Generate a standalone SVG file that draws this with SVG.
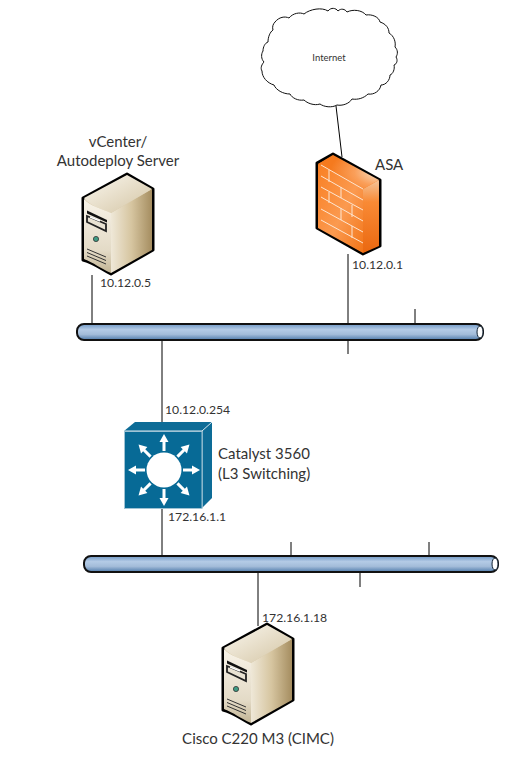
<svg xmlns="http://www.w3.org/2000/svg" width="531" height="767" viewBox="0 0 531 767">
<style>
text{font-family:"Lato","Open Sans",sans-serif;fill:#333}
.big{font-size:15px}
.sm{font-size:12.200px}
.wire{stroke:#000;stroke-width:1;fill:none}
.out{stroke:#000;stroke-width:3;stroke-linejoin:round}
.thin{stroke:#111;stroke-width:1;fill:none}
</style>
<defs>
<linearGradient id="bar" x1="0" y1="0" x2="0" y2="1">
<stop offset="0" stop-color="#6f97c4"/><stop offset=".35" stop-color="#b4cbe6"/><stop offset=".65" stop-color="#a3bcd9"/><stop offset="1" stop-color="#4f7bab"/>
</linearGradient>
<linearGradient id="srvSide" x1="0" y1="0" x2="1" y2="0">
<stop offset="0" stop-color="#efe8d8"/><stop offset=".5" stop-color="#d6c5a0"/><stop offset="1" stop-color="#a58d60"/>
</linearGradient>
<linearGradient id="srvTop" x1="0" y1="0" x2="1" y2="1">
<stop offset="0" stop-color="#fbf8f0"/><stop offset="1" stop-color="#d3c4a3"/>
</linearGradient>
<linearGradient id="srvFront" x1="0" y1="0" x2="0" y2="1">
<stop offset="0" stop-color="#f8f3e8"/><stop offset=".7" stop-color="#e3dac6"/><stop offset="1" stop-color="#c2b494"/>
</linearGradient>
<linearGradient id="fwFront" x1="0" y1="0" x2="1" y2="1">
<stop offset="0" stop-color="#f97f22"/><stop offset=".55" stop-color="#fb9a50"/><stop offset="1" stop-color="#f27518"/>
</linearGradient>
<radialGradient id="fwGlow" cx="1" cy="0.5" r="0.8">
<stop offset="0" stop-color="#f8e2c8"/><stop offset=".5" stop-color="#fa9f5a"/><stop offset="1" stop-color="#f57a1e"/>
</radialGradient>
<linearGradient id="fwSide" x1="0" y1="0" x2="0" y2="1">
<stop offset="0" stop-color="#f4c49a"/><stop offset=".3" stop-color="#f98a35"/><stop offset="1" stop-color="#ea6810"/>
</linearGradient>
<g id="server">
<path d="M83 198 L127 174 L153 189 L153 250 L111 274 C100 268 94 263 83 260Z" fill="#d8c9a8" class="out"/>
<path d="M111 213 L152 189 L152 250 L111 273Z" fill="url(#srvSide)"/>
<path d="M84 198 L127 175 L152 189 L111 213 C100 208 90 206 84 198Z" fill="url(#srvTop)"/>
<path d="M84 199 C90 206 100 208 111 213 L111 273 C100 268 94 263 84 259Z" fill="url(#srvFront)"/>
<path d="M87 210.500 L107 220 L107 222.500 L87 213.500Z" fill="#111"/>
<path d="M87 216 L106 224 L106 231 L87 222Z" fill="#e9e2d2" stroke="#222" stroke-width="1.800"/>
<path d="M90 217 L100 221" stroke="#fff" stroke-width="1.500"/>
<circle cx="96" cy="239" r="2.600" fill="#3f9c84" stroke="#333" stroke-width=".8"/>
<path d="M87 249 L106 257 M87 252.500 L106 260.500 M87 256 L106 264" stroke="#333" stroke-width="1" fill="none"/>
</g>
<path id="arr" d="M-1.500 -19 L-1.500 -28 L-4.500 -28 L0 -36 L4.500 -28 L1.500 -28 L1.500 -19Z" fill="#fff"/>
</defs>

<g id="connectors">
<path class="wire" d="M92 275V324"/>
<path class="wire" d="M348 254V354"/>
<path class="wire" d="M415 309V324"/>
<path class="wire" d="M162 340V423"/>
<path class="wire" d="M162 508V556"/>
<path class="wire" d="M291 542V556"/>
<path class="wire" d="M429 542V556"/>
<path class="wire" d="M360 572V587"/>
<path class="wire" d="M258 572V626"/>
<path class="wire" d="M336 106L342 157"/>
</g>

<g id="bus-top">
<rect x="77" y="324" width="406" height="16" rx="7" fill="url(#bar)" stroke="#111" stroke-width="2"/>
<ellipse cx="480" cy="332" rx="3" ry="6" fill="#fff" stroke="#123" stroke-width="1"/>
</g>
<g id="bus-bottom">
<rect x="84" y="556" width="414" height="16" rx="7" fill="url(#bar)" stroke="#111" stroke-width="2"/>
<ellipse cx="495" cy="564" rx="3" ry="6" fill="#fff" stroke="#123" stroke-width="1"/>
</g>

<g id="internet">
<path class="thin" fill="#fff" d="M275 22 C279 17 285 16 289 18 C293 13 300 12 304 14 C310 9 322 7 328 11 C331 7 336 8 338 11 C341 8 345 9 347 12 C353 9 362 10 366 15 C372 14 379 17 380 22 C386 24 389 28 389 33 C394 36 396 42 395 47 C398 50 398 54 396 57 C398 60 397 64 394 65 C395 69 393 74 390 75 C390 80 386 85 381 85 C380 91 374 95 368 94 C364 98 358 100 352 99 C349 104 342 106 337 105 C332 108 324 107 320 104 C314 106 307 103 304 100 C298 101 292 98 290 94 C283 94 276 90 274 85 C267 83 262 77 262 71 C260 68 262 64 264 62 C261 59 261 54 263 51 C263 47 265 43 268 42 C268 37 270 32 273 30 C272 27 273 24 275 22Z"/>
<text x="329" y="61" text-anchor="middle" style="font-size:9.500px">Internet</text>
</g>

<g id="asa">
<path d="M317 163 L333 154 L380 180 L380 246 L363 254 L317 228Z" fill="#f57a1e" class="out"/>
<path d="M363 189 L379 180 L379 246 L363 253Z" fill="url(#fwSide)"/>
<path d="M318 164 L333 155 L379 180 L363 189Z" fill="url(#fwGlow)"/>
<path d="M318 164 L363 189 L363 253 L318 228Z" fill="url(#fwFront)"/>
<path d="M321 165 L363 189 M321 176 L363 200 M321 187 L363 210 M321 197 L363 221 M321 209 L363 232 M321 220 L363 243 M329 170 V182 M341 187 V198 M329 192 V203 M352 205 V217 M341 208 V220 M352 226 V238" stroke="#fde6d2" stroke-width="1" fill="none"/>
<text x="375" y="170" class="big">ASA</text>
</g>
<text x="352" y="269" class="sm">10.12.0.1</text>

<g id="vcenter">
<use href="#server"/>
<text x="118" y="147" text-anchor="middle" class="big">vCenter/</text>
<text x="118" y="166" text-anchor="middle" class="big">Autodeploy Server</text>
</g>
<text x="100" y="287" class="sm">10.12.0.5</text>

<g id="catalyst">
<path d="M124 431 L135 422 L212 422 L212 498 L202 508 L124 508Z" fill="#0d6c97"/>
<path d="M124 431 L202 431 L212 422 M202 431 V508" stroke="#d8e8ef" stroke-width="1" fill="none"/>
<rect x="124.500" y="431.500" width="77.500" height="77" fill="#076a96" stroke="#9fc3d4" stroke-width="1"/>
<circle cx="164" cy="470" r="17.500" fill="#fff"/>
<g transform="translate(164 470)">
<use href="#arr"/>
<use href="#arr" transform="rotate(45)"/>
<use href="#arr" transform="rotate(90)"/>
<use href="#arr" transform="rotate(135)"/>
<use href="#arr" transform="rotate(180)"/>
<use href="#arr" transform="rotate(225)"/>
<use href="#arr" transform="rotate(270)"/>
<use href="#arr" transform="rotate(315)"/>
</g>
<text x="218" y="459" class="big">Catalyst 3560</text>
<text x="218" y="479" class="big">(L3 Switching)</text>
</g>
<text x="165" y="414" class="sm">10.12.0.254</text>
<text x="168" y="521" class="sm">172.16.1.1</text>

<g id="cisco-c220">
<use href="#server" transform="translate(140 450)"/>
<text x="258" y="744" text-anchor="middle" class="big">Cisco C220 M3 (CIMC)</text>
</g>
<text x="262" y="622" class="sm">172.16.1.18</text>
</svg>
